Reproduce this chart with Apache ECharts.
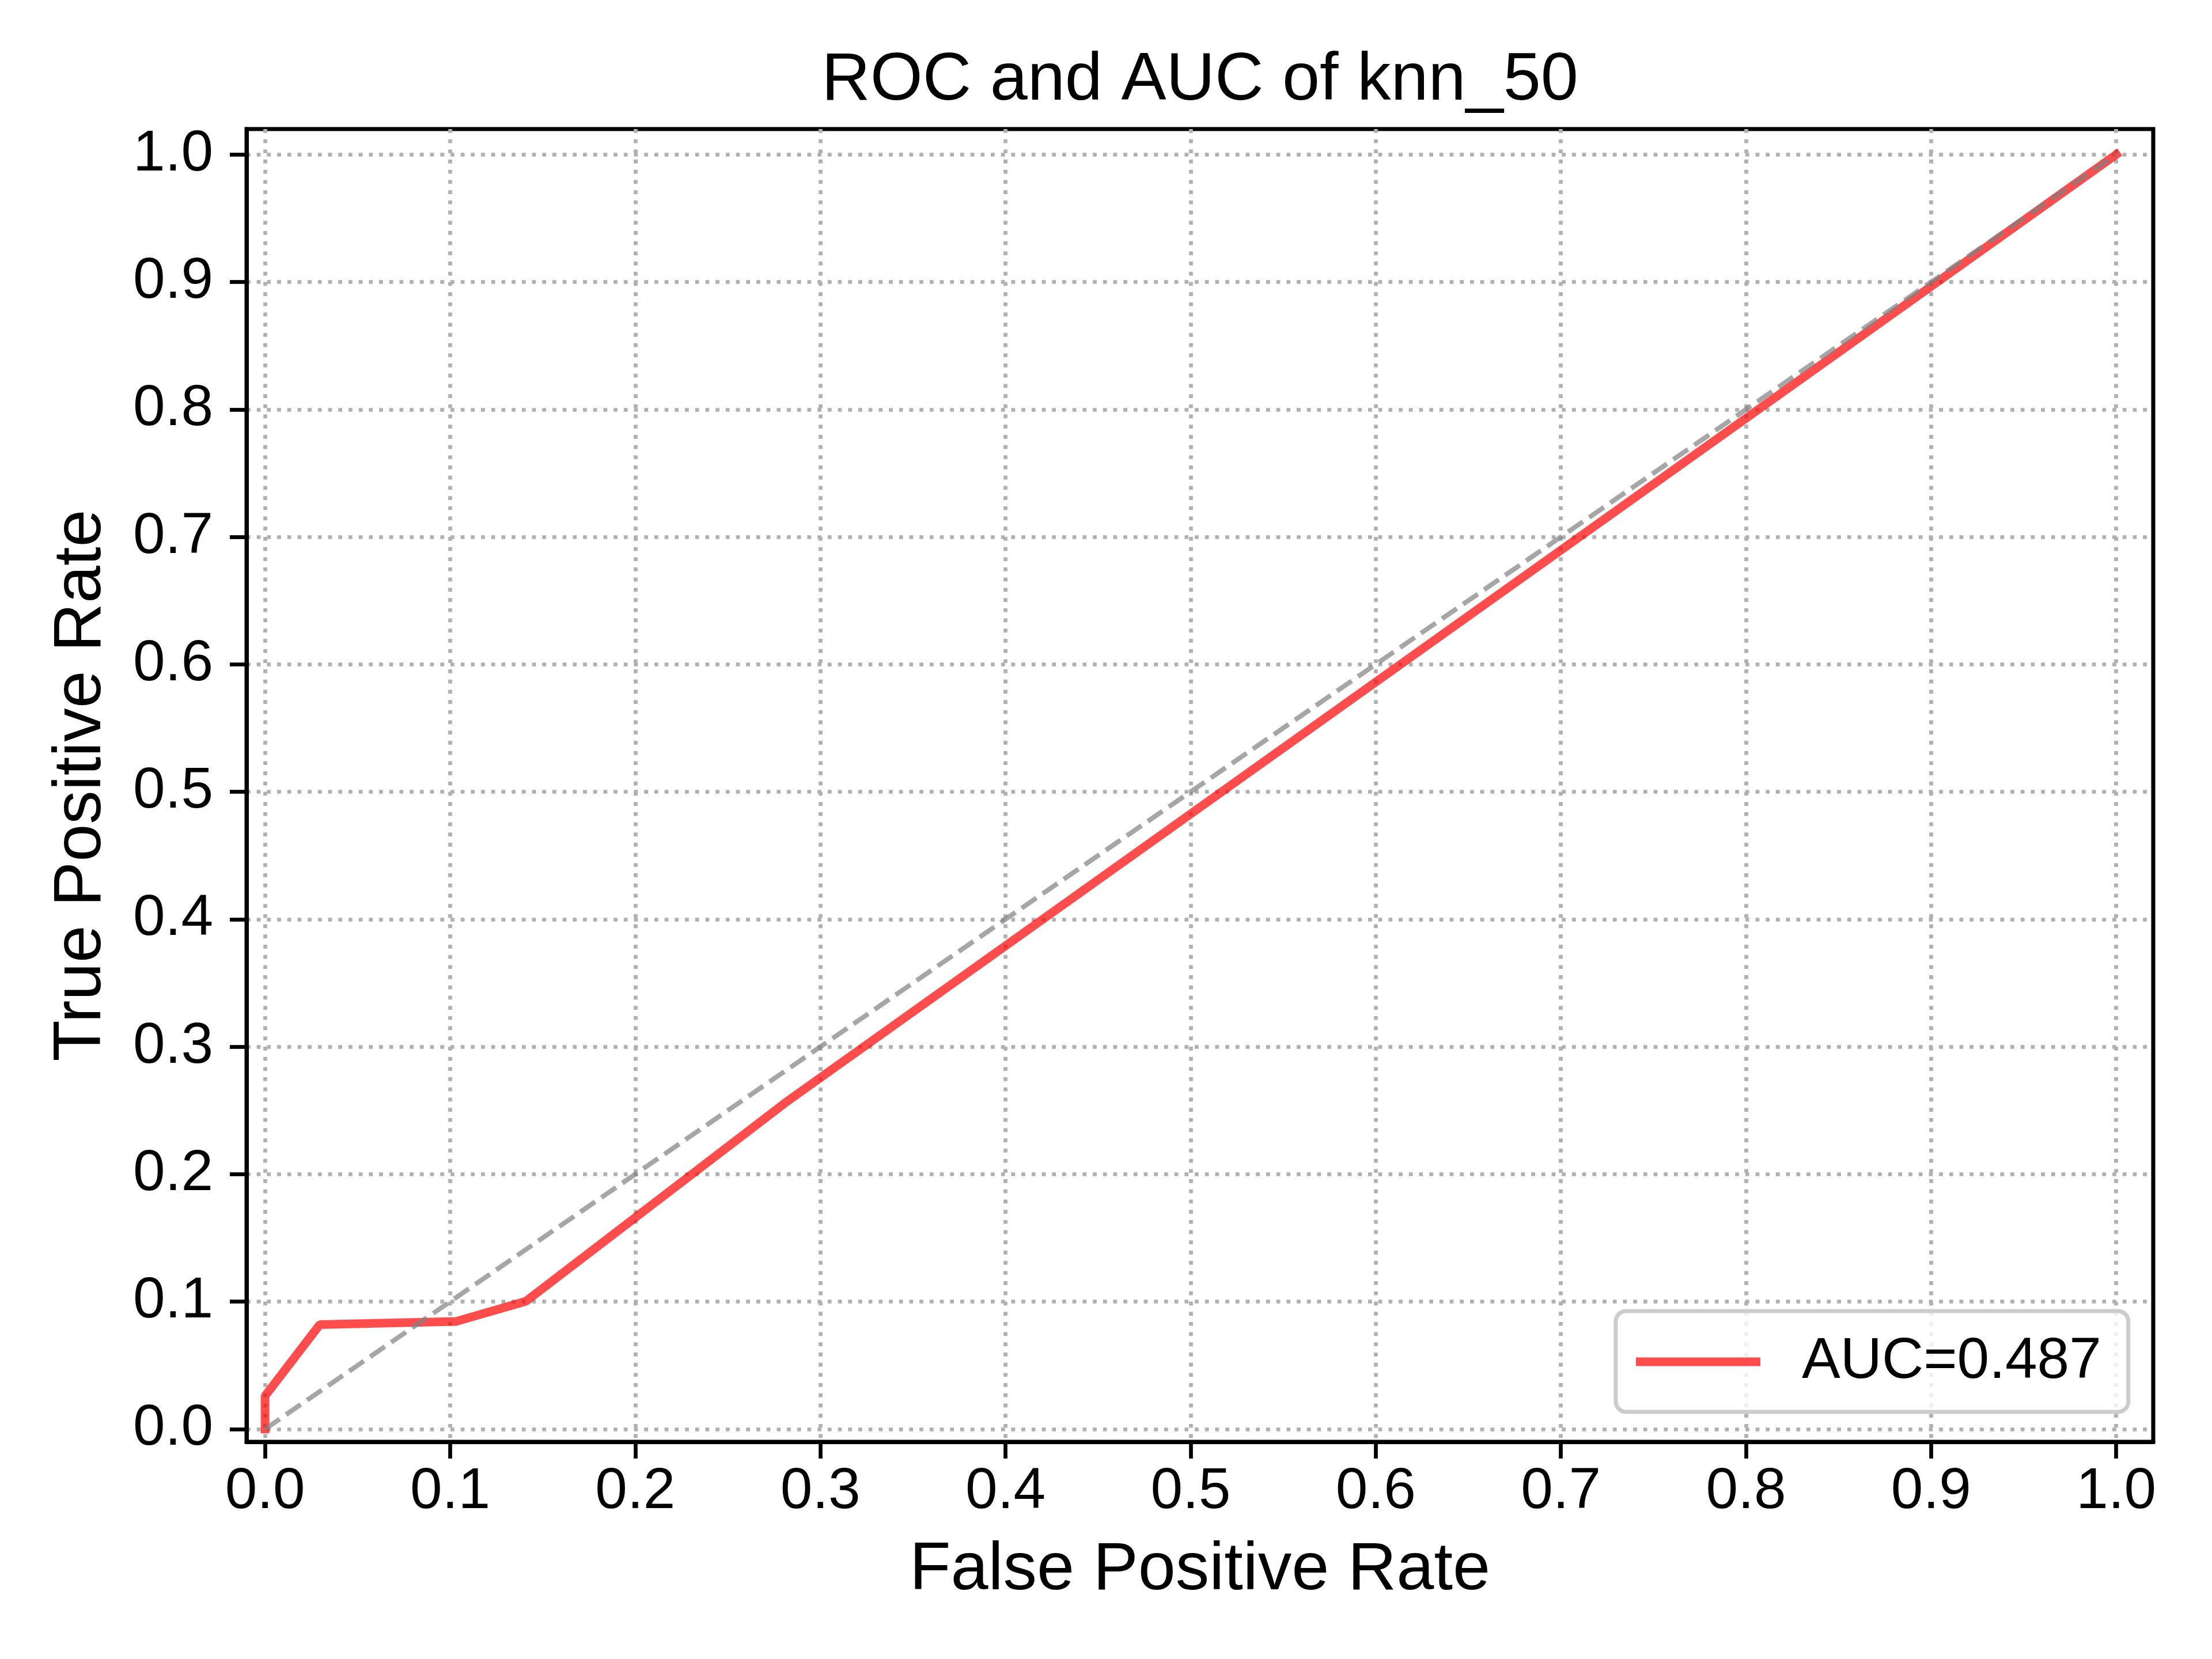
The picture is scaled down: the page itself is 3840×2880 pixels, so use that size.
<!DOCTYPE html>
<html>
<head>
<meta charset="utf-8">
<title>ROC and AUC of knn_50</title>
<script src="https://cdn.jsdelivr.net/npm/echarts@6.0.0/dist/echarts.min.js"></script>
<style>
  html, body { margin: 0; padding: 0; background: #fff; }
  #main { width: 3840px; height: 2880px; }
</style>
</head>
<body>
<div id="main"></div>
<script>
// ROC points
var fpr = [0, 0, 0.0296, 0.1033, 0.1409, 0.281, 1];
var tpr = [0, 0.026, 0.082, 0.0845, 0.1003, 0.256, 1];
// chance line
var diagX = [0, 1];
var diagY = [0, 1];
var tickValues = [0, 0.1, 0.2, 0.3, 0.4, 0.5, 0.6, 0.7, 0.8, 0.9, 1.0];
var aucLabel = 'AUC=0.487';

var FONT = "'Liberation Sans', Arial, sans-serif";

function pairs(xs, ys) {
    return xs.map(function (x, i) { return [x, ys[i]]; });
}

function axisCommon(name, nameGap) {
    return {
        type: 'value',
        min: -0.01,
        max: 1.02,
        name: name,
        nameLocation: 'middle',
        nameGap: nameGap,
        nameTextStyle: { fontFamily: FONT, fontSize: 117, color: '#000' },
        axisLine: { show: true, onZero: false, lineStyle: { color: '#000', width: 7 } },
        axisTick: {
            show: true, inside: false, length: 29, customValues: tickValues,
            lineStyle: { color: '#000', width: 6.7 }
        },
        axisLabel: {
            customValues: tickValues,
            fontFamily: FONT, fontSize: 100, color: '#000',
            formatter: function (v) { return v.toFixed(1); }
        },
        splitLine: {
            show: true,
            lineStyle: { color: '#b0b0b0', width: 6.7, type: [6.7, 11] }
        }
    };
}

var myChart = echarts.init(document.getElementById('main'));
var xAxis = axisCommon('False Positive Rate', 165);
xAxis.axisLabel.margin = 37;
var yAxis = axisCommon('True Positive Rate', 228);
yAxis.axisLabel.margin = 58;

myChart.setOption({
    animation: false,
    backgroundColor: '#fff',
    title: {
        text: 'ROC and AUC of knn_50',
        left: 2083,
        textAlign: 'center',
        top: 82,
        padding: 0,
        textStyle: { fontFamily: FONT, fontSize: 117, fontWeight: 'normal', color: '#000' }
    },
    grid: {
        left: 428, right: 102, top: 224, bottom: 377,
        show: true, borderColor: '#000', borderWidth: 7, backgroundColor: 'transparent'
    },
    legend: {
        data: [aucLabel],
        left: 2805,
        top: 2276,
        orient: 'vertical',
        padding: [38, 47, 37, 35],
        backgroundColor: 'rgba(255,255,255,0.8)',
        borderColor: '#cccccc',
        borderWidth: 7,
        borderRadius: 18,
        icon: 'rect',
        itemWidth: 216,
        itemHeight: 15,
        itemStyle: { color: 'rgba(255,0,0,0.7)' },
        textStyle: { fontFamily: FONT, fontSize: 100, color: '#000', padding: [0, 0, 0, 67] }
    },
    xAxis: xAxis,
    yAxis: yAxis,
    series: [
        {
            name: aucLabel,
            type: 'line',
            data: pairs(fpr, tpr),
            showSymbol: false,
            symbol: 'none',
            lineStyle: { color: 'rgba(255,0,0,0.7)', width: 15, cap: 'square' },
            itemStyle: { color: 'rgba(255,0,0,0.7)' }
        },
        {
            type: 'line',
            data: pairs(diagX, diagY),
            showSymbol: false,
            symbol: 'none',
            lineStyle: { color: 'rgba(128,128,128,0.7)', width: 8.3, type: [31, 13.3] }
        }
    ]
});
</script>
</body>
</html>
